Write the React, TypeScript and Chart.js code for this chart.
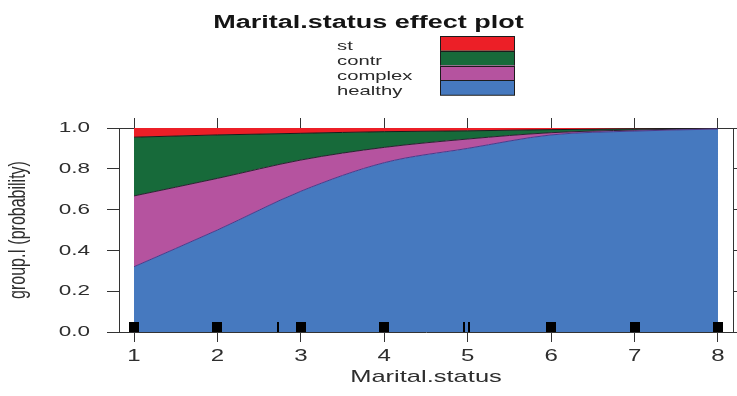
import React, { useEffect, useRef } from "react";
import { Chart, registerables } from "chart.js";

Chart.register(...registerables);

// ---- data ----
const maritalStatus = [1, 2, 3, 4, 5, 6, 7, 8];
const healthy = [0.32, 0.5, 0.69, 0.83, 0.9, 0.966, 0.985, 0.995];
const complex = [0.347, 0.253, 0.153, 0.075, 0.046, 0.011, 0.005, 0.002];
const contr = [0.288, 0.213, 0.131, 0.077, 0.04, 0.015, 0.006, 0.002];
const st = [0.045, 0.034, 0.026, 0.018, 0.014, 0.008, 0.004, 0.001];
const xTicks = [1, 2, 3, 4, 5, 6, 7, 8];
const yTicks = [0, 0.2, 0.4, 0.6, 0.8, 1.0];
const rugDense = [1, 2, 3, 4, 6, 7, 8];
const rugSparse = [2.73, 4.96, 5.02];
const chartTitle = "Marital.status effect plot";
const xTitle = "Marital.status";
const yTitle = "group.I (probability)";

const COLORS = {
  healthy: "#4679bf",
  complex: "#b5539f",
  contr: "#176a3a",
  st: "#ec1f27",
};

const SX = 1.5; // horizontal text stretch of the reference

function stretchText(ctx: CanvasRenderingContext2D) {
  const orig = ctx.fillText.bind(ctx);
  (ctx as any).fillText = (text: string, x: number, y: number, maxWidth?: number) => {
    const m = ctx.getTransform();
    const px = m.a * x + m.c * y + m.e;
    ctx.save();
    ctx.setTransform(SX, 0, 0, 1, px - SX * px, 0);
    ctx.transform(m.a, m.b, m.c, m.d, m.e, m.f);
    if (maxWidth === undefined) orig(text, x, y);
    else orig(text, x, y, maxWidth);
    ctx.restore();
  };
}

const toPoints = (arr: number[]) => arr.map((v, i) => ({ x: maritalStatus[i], y: v }));

const overlayPlugin = {
  id: "overlay",
  afterDatasetsDraw(chart: any) {
    const { ctx, chartArea, scales } = chart;
    const bottom = chartArea.bottom;
    ctx.save();
    ctx.fillStyle = "#000";
    rugDense.forEach((v) => {
      const x = scales.x.getPixelForValue(v);
      ctx.fillRect(Math.round(x - 5), bottom - 10, 10, 10);
    });
    rugSparse.forEach((v) => {
      const x = scales.x.getPixelForValue(v);
      ctx.fillRect(Math.round(x - 1), bottom - 10, 2, 10);
    });
    ctx.restore();
  },
  afterDraw(chart: any) {
    const { ctx } = chart;
    ctx.save();
    // title
    ctx.fillStyle = "#141414";
    ctx.font = "bold 18px 'Liberation Sans', Arial, sans-serif";
    ctx.textAlign = "center";
    ctx.textBaseline = "alphabetic";
    ctx.fillText(chartTitle, chart.width / 2, 28);
    // legend (top to bottom: last dataset first)
    const items = chart.data.datasets.slice().reverse();
    const bx = 440, bw = 75, top = 36, rh = 14.75;
    ctx.font = "13.5px 'Liberation Sans', Arial, sans-serif";
    ctx.textAlign = "left";
    items.forEach((ds: any, i: number) => {
      const y = top + i * rh;
      ctx.fillStyle = ds.backgroundColor;
      ctx.fillRect(bx, y, bw, rh);
      ctx.strokeStyle = "#1c1c1c";
      ctx.lineWidth = 1;
      ctx.strokeRect(bx + 0.5, Math.round(y) + 0.5, bw - 1, rh);
      ctx.fillStyle = "#2a2a2a";
      ctx.fillText(ds.label, 337, y + rh - 0.5);
    });
    ctx.restore();
  },
};

export default function App() {
  const ref = useRef<HTMLCanvasElement | null>(null);

  useEffect(() => {
    document.body.style.margin = "0";
    const canvas = ref.current!;
    const ctx = canvas.getContext("2d")!;
    stretchText(ctx);

    const setX = (s: any) => {
      s.ticks = xTicks.map((v) => ({ value: v }));
    };
    const setY = (s: any) => {
      s.ticks = yTicks.map((v) => ({ value: v }));
    };
    const tickColor = "#333";

    const mkDs = (label: string, data: number[], color: string, fill: any, border: string, bw: number) => ({
      label,
      data: toPoints(data),
      backgroundColor: color,
      borderColor: border,
      borderWidth: bw,
      fill,
      pointRadius: 0,
      cubicInterpolationMode: "monotone" as const,
    });

    const chart = new Chart(ctx, {
      type: "line",
      data: {
        datasets: [
          mkDs("healthy", healthy, COLORS.healthy, "origin", "#4a3a8a", 1),
          mkDs("complex", complex, COLORS.complex, "-1", "#2b2030", 1),
          mkDs("contr", contr, COLORS.contr, "-1", "#1a1a1a", 1),
          mkDs("st", st, COLORS.st, "-1", "rgba(0,0,0,0)", 0),
        ],
      },
      plugins: [overlayPlugin],
      options: {
        animation: false,
        responsive: false,
        devicePixelRatio: 1,
        layout: { padding: { top: 118, left: 0, right: 0, bottom: 0 } },
        plugins: {
          legend: { display: false },
          title: { display: false },
          tooltip: { enabled: false },
        },
        scales: {
          x: {
            type: "linear",
            position: "bottom",
            min: 0.82,
            max: 8.18,
            afterBuildTicks: setX,
            afterFit: (s: any) => {
              s.height = 64;
            },
            grid: { drawOnChartArea: false, drawTicks: true, tickLength: 10, color: tickColor },
            border: { display: true, color: tickColor, width: 1 },
            ticks: {
              color: "#2e2e2e",
              font: { family: "'Liberation Sans', Arial, sans-serif", size: 16 },
              padding: 5,
              maxRotation: 0,
              autoSkip: false,
              callback: (v: any) => String(v),
            },
            title: {
              display: true,
              text: xTitle,
              color: "#2e2e2e",
              font: { family: "'Liberation Sans', Arial, sans-serif", size: 17 },
              padding: { top: 0, bottom: 8 },
            },
          },
          x2: {
            type: "linear",
            position: "top",
            min: 0.82,
            max: 8.18,
            afterBuildTicks: setX,
            afterFit: (s: any) => {
              s.height = 10;
            },
            grid: { drawOnChartArea: false, drawTicks: true, tickLength: 10, color: tickColor },
            border: { display: true, color: tickColor, width: 1 },
            ticks: { display: false },
          },
          y: {
            type: "linear",
            position: "left",
            stacked: true,
            min: 0,
            max: 1,
            afterBuildTicks: setY,
            afterFit: (s: any) => {
              s.width = 119;
            },
            grid: { drawOnChartArea: false, drawTicks: true, tickLength: 12, color: tickColor },
            border: { display: true, color: tickColor, width: 1 },
            ticks: {
              color: "#2e2e2e",
              font: { family: "'Liberation Sans', Arial, sans-serif", size: 15 },
              padding: 17,
              callback: (v: any) => Number(v).toFixed(1),
            },
            title: {
              display: true,
              text: yTitle,
              color: "#2e2e2e",
              font: { family: "'Liberation Sans', Arial, sans-serif", size: 16 },
              padding: { top: 9, bottom: 0 },
            },
          },
          y2: {
            type: "linear",
            position: "right",
            min: 0,
            max: 1,
            afterBuildTicks: setY,
            afterFit: (s: any) => {
              s.width = 4;
            },
            grid: { drawOnChartArea: false, drawTicks: true, tickLength: 10, color: tickColor },
            border: { display: true, color: tickColor, width: 1 },
            ticks: { display: false },
          },
        },
      } as any,
    });

    return () => chart.destroy();
  }, []);

  return (
    <div style={{ width: 737, height: 396 }}>
      <canvas ref={ref} width={737} height={396} style={{ display: "block" }} />
    </div>
  );
}
